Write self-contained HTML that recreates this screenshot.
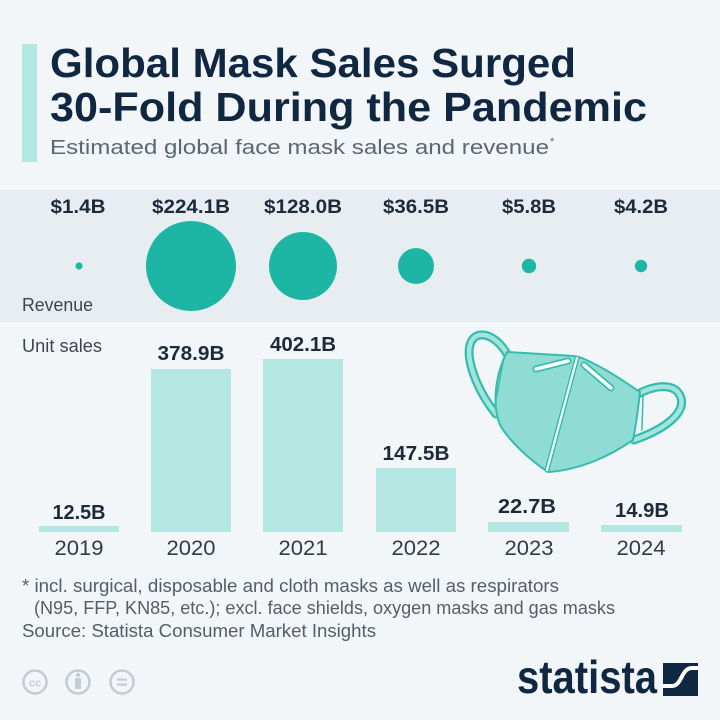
<!DOCTYPE html>
<html>
<head>
<meta charset="utf-8">
<style>
html,body{margin:0;padding:0;background:#f3f6f9;}
svg{display:block;font-family:"Liberation Sans",Arial,sans-serif;}
</style>
</head>
<body>
<svg width="720" height="720" viewBox="0 0 720 720" xmlns="http://www.w3.org/2000/svg">
  <rect x="0" y="0" width="720" height="720" fill="#f3f6f9"/>
  <!-- accent bar -->
  <rect x="22" y="44" width="15" height="118" fill="#b4e7e2"/>
  <!-- title -->
  <text x="50" y="77" font-size="41" font-weight="700" fill="#0f2741" textLength="526" lengthAdjust="spacingAndGlyphs">Global Mask Sales Surged</text>
  <text x="50" y="121" font-size="41" font-weight="700" fill="#0f2741" textLength="597" lengthAdjust="spacingAndGlyphs">30-Fold During the Pandemic</text>
  <text x="50" y="154" font-size="20" fill="#5d6671" textLength="499" lengthAdjust="spacingAndGlyphs">Estimated global face mask sales and revenue</text>
  <text x="550" y="145" font-size="11" fill="#5d6671">*</text>

  <!-- revenue band -->
  <rect x="0" y="190" width="720" height="132" fill="#e8edf2"/>
  <g font-size="19" font-weight="700" fill="#1c2a3a" text-anchor="middle">
    <text x="78" y="213" textLength="55" lengthAdjust="spacingAndGlyphs">$1.4B</text>
    <text x="191" y="213" textLength="78" lengthAdjust="spacingAndGlyphs">$224.1B</text>
    <text x="303" y="213" textLength="78" lengthAdjust="spacingAndGlyphs">$128.0B</text>
    <text x="416" y="213" textLength="66" lengthAdjust="spacingAndGlyphs">$36.5B</text>
    <text x="529" y="213" textLength="54" lengthAdjust="spacingAndGlyphs">$5.8B</text>
    <text x="641" y="213" textLength="54" lengthAdjust="spacingAndGlyphs">$4.2B</text>
  </g>
  <g fill="#1db6a4">
    <circle cx="79" cy="266" r="3.6"/>
    <circle cx="191" cy="266" r="45"/>
    <circle cx="303" cy="266" r="34"/>
    <circle cx="416" cy="266" r="18"/>
    <circle cx="529" cy="266" r="7.2"/>
    <circle cx="641" cy="266" r="6.2"/>
  </g>
  <text x="22" y="311" font-size="18" fill="#3b4550" textLength="71" lengthAdjust="spacingAndGlyphs">Revenue</text>

  <!-- unit sales -->
  <text x="22" y="352" font-size="18" fill="#3b4550" textLength="80" lengthAdjust="spacingAndGlyphs">Unit sales</text>
  <g fill="#b4e7e2">
    <rect x="39" y="526" width="80" height="6"/>
    <rect x="151" y="369" width="80" height="163"/>
    <rect x="263" y="359" width="80" height="173"/>
    <rect x="376" y="468" width="80" height="64"/>
    <rect x="488" y="522" width="81" height="10"/>
    <rect x="601" y="525" width="81" height="7"/>
  </g>
  <g font-size="20" font-weight="700" fill="#1c2a3a" text-anchor="middle">
    <text x="79" y="519" textLength="53" lengthAdjust="spacingAndGlyphs">12.5B</text>
    <text x="191" y="360" textLength="67" lengthAdjust="spacingAndGlyphs">378.9B</text>
    <text x="303" y="351" textLength="66" lengthAdjust="spacingAndGlyphs">402.1B</text>
    <text x="416" y="460" textLength="67" lengthAdjust="spacingAndGlyphs">147.5B</text>
    <text x="527" y="513" textLength="58" lengthAdjust="spacingAndGlyphs">22.7B</text>
    <text x="642" y="517" textLength="54" lengthAdjust="spacingAndGlyphs">14.9B</text>
  </g>
  <g font-size="21" fill="#333b45" text-anchor="middle">
    <text x="79" y="555" textLength="49" lengthAdjust="spacingAndGlyphs">2019</text>
    <text x="191" y="555" textLength="49" lengthAdjust="spacingAndGlyphs">2020</text>
    <text x="303" y="555" textLength="49" lengthAdjust="spacingAndGlyphs">2021</text>
    <text x="416" y="555" textLength="49" lengthAdjust="spacingAndGlyphs">2022</text>
    <text x="529" y="555" textLength="49" lengthAdjust="spacingAndGlyphs">2023</text>
    <text x="641" y="555" textLength="49" lengthAdjust="spacingAndGlyphs">2024</text>
  </g>

  <!-- mask illustration -->
  <g stroke-linecap="round" stroke-linejoin="round" fill="none">
    <path d="M507 354 C497 336 478 328 471 342 C464 358 478 392 496 414" stroke="#34bdad" stroke-width="9"/>
    <path d="M507 354 C497 336 478 328 471 342 C464 358 478 392 496 414" stroke="#a3e4dc" stroke-width="4.5"/>
    <path d="M638 394 C655 385 676 382 681 398 C685 412 668 428 634 440" stroke="#34bdad" stroke-width="9"/>
    <path d="M638 394 C655 385 676 382 681 398 C685 412 668 428 634 440" stroke="#a3e4dc" stroke-width="4.5"/>
    <path d="M507 352 L574 356 L582 358 C605 368 622 380 640 392 C638 410 636 425 633 440 C610 456 580 470 548 472 C530 460 510 442 500 425 C492 405 495 375 507 352 Z" fill="#8fdcd4" stroke="#34bdad" stroke-width="2"/>
    <path d="M643 396 L642 430" stroke="#34bdad" stroke-width="1.5"/>
    <path d="M503 362 L495 405" stroke="#34bdad" stroke-width="1.5"/>
    <path d="M577 358 L547 470" stroke="#34bdad" stroke-width="5"/>
    <path d="M577 358 L547 470" stroke="#ffffff" stroke-width="2.2"/>
    <path d="M536 369 L568 361" stroke="#34bdad" stroke-width="7"/>
    <path d="M536 369 L568 361" stroke="#ffffff" stroke-width="3.5"/>
    <path d="M584 365 L611 388" stroke="#34bdad" stroke-width="7"/>
    <path d="M584 365 L611 388" stroke="#ffffff" stroke-width="3.5"/>
  </g>

  <!-- footnotes -->
  <g font-size="18" fill="#555d66">
    <text x="22" y="592" textLength="537" lengthAdjust="spacingAndGlyphs">* incl. surgical, disposable and cloth masks as well as respirators</text>
    <text x="34" y="614" textLength="581" lengthAdjust="spacingAndGlyphs">(N95, FFP, KN85, etc.); excl. face shields, oxygen masks and gas masks</text>
    <text x="22" y="637" textLength="354" lengthAdjust="spacingAndGlyphs">Source: Statista Consumer Market Insights</text>
  </g>

  <!-- CC icons -->
  <g stroke="#c6cbd0" stroke-width="2.5" fill="none">
    <circle cx="35" cy="682" r="11.5"/>
    <circle cx="78" cy="682" r="11.5"/>
    <circle cx="122" cy="682" r="11.5"/>
  </g>
  <text x="35" y="686.5" font-size="11" font-weight="700" fill="#c6cbd0" text-anchor="middle">cc</text>
  <circle cx="78" cy="675" r="2.2" fill="#c6cbd0"/>
  <rect x="75" y="678" width="6" height="11" rx="1" fill="#c6cbd0"/>
  <rect x="117" y="678.5" width="10" height="2.2" fill="#c6cbd0"/>
  <rect x="117" y="683.5" width="10" height="2.2" fill="#c6cbd0"/>

  <!-- statista logo -->
  <text x="517" y="693" font-size="46" font-weight="700" fill="#0f2741" textLength="140" lengthAdjust="spacingAndGlyphs">statista</text>
  <rect x="663" y="663" width="35" height="33" fill="#0f2741"/>
  <path d="M663 686 L672 686 C682 686 681 668 692 668 L698 668" stroke="#ffffff" stroke-width="4" fill="none"/>
</svg>
</body>
</html>
